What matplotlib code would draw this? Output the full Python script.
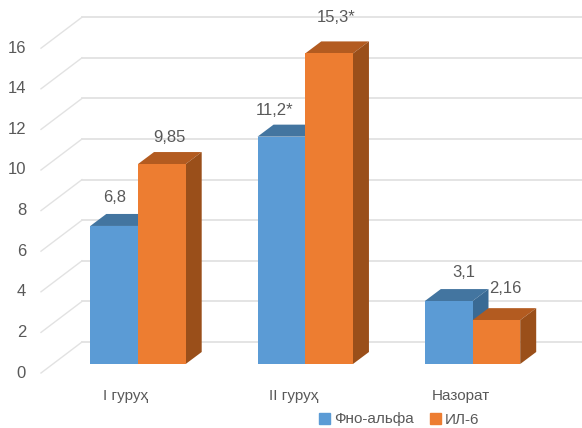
import matplotlib
matplotlib.use("Agg")
import matplotlib.pyplot as plt
from matplotlib.patches import Polygon, Patch

plt.rcParams['font.family'] = ['Liberation Sans', 'DejaVu Sans']

categories = ['I гуруҳ', 'II гуруҳ', 'Назорат']
fno_alfa = [6.8, 11.2, 3.1]
il_6 = [9.85, 15.3, 2.16]
fno_labels = ['6,8', '11,2*', '3,1']
il_labels = ['9,85', '15,3*', '2,16']
y_ticks = [0, 2, 4, 6, 8, 10, 12, 14, 16]

W, H = 582, 428
px_x = 167.25   # pixels per category
px_y = 20.3     # pixels per value unit
x0_px = 138     # first category centre
y0_px = 364     # bar base

fig = plt.figure(figsize=(W / 100, H / 100), dpi=100, facecolor='white')
ax = fig.add_axes([0, 0, 1, 1])
ax.set_xlim(-x0_px / px_x, (W - x0_px) / px_x)
ax.set_ylim(-(H - y0_px) / px_y, y0_px / px_y)
ax.axis('off')

bar_w = 47.7 / px_x
dx = 16 / px_x
dy = 12 / px_y
text_col = '#595959'
grid_col = '#E2E2E2'


def px2x(p):
    return p / px_x


def px2y(p):
    return p / px_y


# walls
wall_left = px2x(41 - x0_px)
wall_back = px2x(82 - x0_px)
floor_front = px2y(-9)
floor_back = px2y(22)
for v in y_ticks:
    ax.plot([wall_left, wall_back], [v + floor_front, v + floor_back],
            color=grid_col, lw=1.0, zorder=1)
    ax.plot([wall_back, ax.get_xlim()[1]], [v + floor_back, v + floor_back],
            color=grid_col, lw=1.3, zorder=1)
    ax.text(px2x(26 - x0_px), v + floor_front, str(v), ha='right', va='center',
            fontsize=12, color=text_col)


def bar3d(x, h, front, top, side, z):
    ax.bar(x, h, bar_w, align='edge', color=front, linewidth=0, zorder=z + 0.2)
    ax.add_patch(Polygon([(x, h), (x + bar_w, h), (x + bar_w + dx, h + dy), (x + dx, h + dy)],
                         closed=True, color=top, lw=0, zorder=z))
    ax.add_patch(Polygon([(x + bar_w, 0), (x + bar_w + dx, dy), (x + bar_w + dx, h + dy), (x + bar_w, h)],
                         closed=True, color=side, lw=0, zorder=z))


for i in range(len(categories)):
    bar3d(i - bar_w, fno_alfa[i], '#5B9BD5', '#4375A0', '#3A6A94', 2)
    bar3d(i, il_6[i], '#ED7D31', '#B35B20', '#9A4F1A', 3)

# data labels, offsets in pixels from bar top centre
fno_off = [(0, 28), (-7, 26), (15, 29)]
il_off = [(8, 27), (7, 36), (9, 32)]
for i in range(len(categories)):
    ax.annotate(fno_labels[i], (i - bar_w / 2, fno_alfa[i]), xytext=fno_off[i],
                textcoords='offset pixels', ha='center', va='center',
                fontsize=12, color=text_col, zorder=5)
    ax.annotate(il_labels[i], (i + bar_w / 2, il_6[i]), xytext=il_off[i],
                textcoords='offset pixels', ha='center', va='center',
                fontsize=12, color=text_col, zorder=5)

# category labels
for i, c in enumerate(categories):
    ax.text(i - px2x(12), px2y(-32), c, ha='center', va='center',
            fontsize=11, color=text_col)

handles = [Patch(color='#5B9BD5', label='Фно-альфа'), Patch(color='#ED7D31', label='ИЛ-6')]
ax.legend(handles=handles, loc='center', bbox_to_anchor=(399.5 / W, 1 - 419.5 / H),
          ncol=2, frameon=False, fontsize=11, labelcolor=text_col,
          handlelength=0.72, handleheight=0.72, handletextpad=0.26, columnspacing=1.05,
          borderpad=0, borderaxespad=0)

fig.savefig('out.png', dpi=100)
